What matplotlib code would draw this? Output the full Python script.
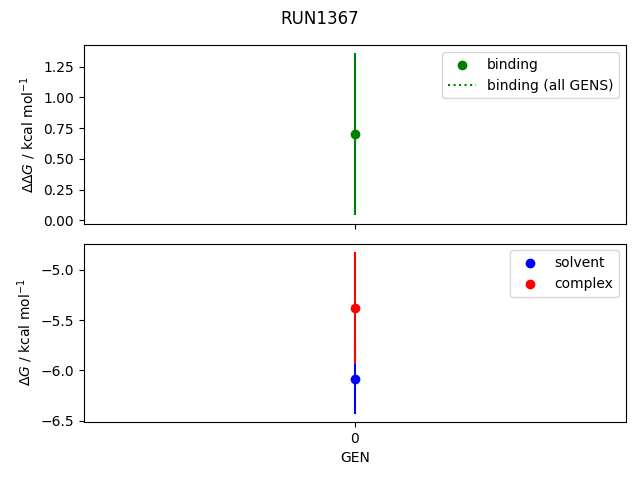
import numpy as np
import matplotlib
matplotlib.use('Agg')
import matplotlib.pyplot as plt

# free energy estimates per GEN for RUN1367
gens = [0]
binding = [0.70]
binding_err = [0.66]
solvent = [-6.08]
solvent_err = [0.35]
complex_ = [-5.38]
complex_err = [0.56]

fig, axes = plt.subplots(2, 1, sharex=True, figsize=(6.4, 4.8), dpi=100)
fig.suptitle('RUN1367')

ax = axes[0]
ax.errorbar(gens, binding, yerr=binding_err, color='green', ls='none')
ax.scatter(gens, binding, color='green', label='binding')
ax.plot([], [], ':', color='green', label='binding (all GENS)')
ax.set_ylabel(r'$\Delta\Delta G$ / kcal mol$^{-1}$')
ax.legend(loc='upper right')

ax = axes[1]
ax.errorbar(gens, solvent, yerr=solvent_err, color='blue', ls='none')
ax.scatter(gens, solvent, color='blue', label='solvent')
ax.errorbar(gens, complex_, yerr=complex_err, color='red', ls='none')
ax.scatter(gens, complex_, color='red', label='complex')
ax.set_ylabel(r'$\Delta G$ / kcal mol$^{-1}$')
ax.set_xlabel('GEN')
ax.set_xticks(gens)
ax.legend(loc='upper right')

fig.subplots_adjust(left=0.131, right=0.978, top=0.906, bottom=0.121, hspace=0.112)
fig.savefig('out.png')
